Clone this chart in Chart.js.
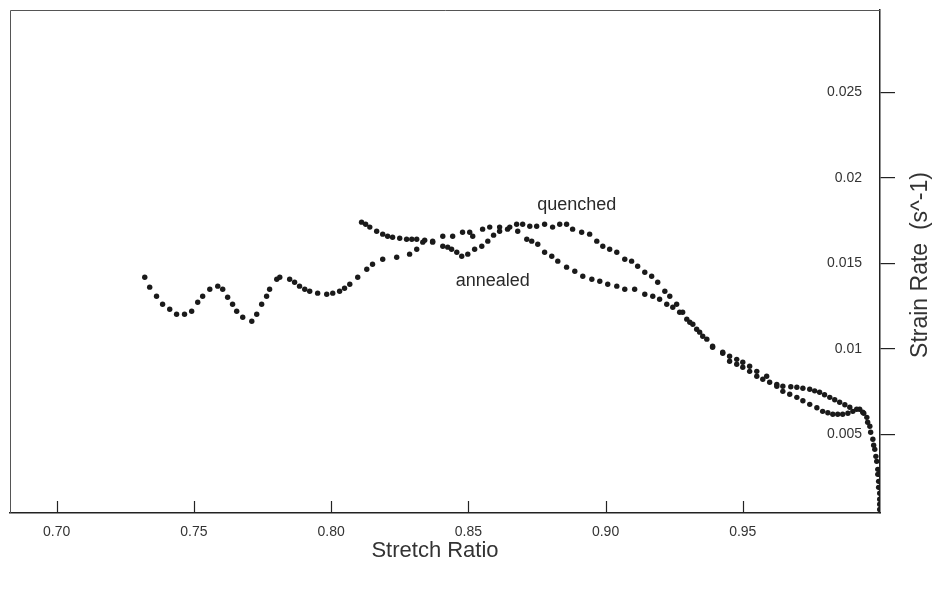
<!DOCTYPE html>
<html>
<head>
<meta charset="utf-8">
<script src="https://cdn.jsdelivr.net/npm/chart.js@4.4.0/dist/chart.umd.min.js"></script>
<style>
  body { margin: 0; background: #fff; }
  #chart { display: block; }
</style>
</head>
<body>
<canvas id="chart" width="933" height="590"></canvas>
<script>
// values
const quenchedStretch = [
  0.7321, 0.7339, 0.7364, 0.7386, 0.7412, 0.7437, 0.7466, 0.7492, 0.7514, 0.7532,
  0.7558, 0.7587, 0.7605, 0.7623, 0.7641, 0.7656, 0.7678, 0.7711, 0.7729, 0.7747,
  0.7765, 0.7776, 0.7802, 0.7813, 0.7849, 0.7867, 0.7885, 0.7904, 0.7922, 0.7951,
  0.7984, 0.8006, 0.8031, 0.8049, 0.8068,
  0.8097, 0.8130, 0.8151, 0.8188, 0.8239, 0.8286, 0.8312, 0.8334, 0.8370, 0.8407,
  0.8443, 0.8479, 0.8505, 0.8516, 0.8552, 0.8578, 0.8614, 0.8651, 0.8676, 0.8698,
  0.8724, 0.8749, 0.8778, 0.8807, 0.8833, 0.8858, 0.8880, 0.8913, 0.8942, 0.8968,
  0.8990, 0.9015, 0.9041, 0.9070, 0.9095, 0.9117, 0.9143, 0.9168, 0.9190, 0.9216,
  0.9234, 0.9259, 0.9281, 0.9307, 0.9332, 0.9354, 0.9390, 0.9427, 0.9452, 0.9478,
  0.9500, 0.9525, 0.9551, 0.9587, 0.9624, 0.9646, 0.9675, 0.9697, 0.9719, 0.9744,
  0.9762, 0.9780, 0.9798, 0.9817, 0.9835, 0.9853, 0.9872, 0.9890, 0.9915, 0.9937,
  0.9952, 0.9963, 0.9974, 0.9981, 0.9988, 0.9992, 0.9995, 0.9999, 0.9999
];
const quenchedRate = [
  0.01418, 0.01360, 0.01307, 0.01260, 0.01231, 0.01202, 0.01202, 0.01219, 0.01272, 0.01307,
  0.01348, 0.01366, 0.01348, 0.01301, 0.01260, 0.01219, 0.01184, 0.01161, 0.01202, 0.01260,
  0.01307, 0.01348, 0.01406, 0.01418, 0.01406, 0.01389, 0.01366, 0.01348, 0.01336, 0.01325,
  0.01319, 0.01325, 0.01336, 0.01354, 0.01377,
  0.01418, 0.01465, 0.01494, 0.01523, 0.01535, 0.01553, 0.01582, 0.01623, 0.01629, 0.01658,
  0.01658, 0.01681, 0.01681, 0.01658, 0.01699, 0.01711, 0.01711, 0.01711, 0.01728, 0.01728,
  0.01716, 0.01716, 0.01728, 0.01711, 0.01728, 0.01728, 0.01699, 0.01681, 0.01670, 0.01629,
  0.01599, 0.01582, 0.01564, 0.01523, 0.01512, 0.01482, 0.01447, 0.01424, 0.01389, 0.01336,
  0.01307, 0.01260, 0.01213, 0.01155, 0.01114, 0.01073, 0.01009, 0.00980, 0.00956, 0.00938,
  0.00921, 0.00898, 0.00868, 0.00839, 0.00792, 0.00781, 0.00778, 0.00775, 0.00769, 0.00763,
  0.00754, 0.00746, 0.00731, 0.00716, 0.00702, 0.00687, 0.00673, 0.00658, 0.00646, 0.00629,
  0.00599, 0.00547, 0.00471, 0.00412, 0.00342, 0.00266, 0.00190, 0.00120, 0.00061
];
const annealedStretch = [
  0.8111, 0.8126, 0.8141, 0.8166, 0.8188, 0.8206, 0.8224, 0.8250, 0.8275, 0.8294,
  0.8312, 0.8341, 0.8370, 0.8407, 0.8425, 0.8439, 0.8458, 0.8476, 0.8498, 0.8523,
  0.8549, 0.8571, 0.8592, 0.8614, 0.8643, 0.8680, 0.8713, 0.8731, 0.8753, 0.8778,
  0.8804, 0.8826, 0.8858, 0.8888, 0.8917, 0.8950, 0.8979, 0.9008, 0.9041, 0.9070,
  0.9106, 0.9143, 0.9172, 0.9197, 0.9223, 0.9245, 0.9270, 0.9296, 0.9318, 0.9343,
  0.9369, 0.9390, 0.9427, 0.9452, 0.9478, 0.9500, 0.9525, 0.9551, 0.9573, 0.9598,
  0.9624, 0.9646, 0.9671, 0.9697, 0.9719, 0.9744, 0.9770, 0.9791, 0.9810, 0.9828,
  0.9846, 0.9864, 0.9883, 0.9901, 0.9926, 0.9941, 0.9955, 0.9966, 0.9977, 0.9985,
  0.9992, 0.9995, 0.9999, 0.9999
];
const annealedRate = [
  0.01740, 0.01728, 0.01711, 0.01687, 0.01670, 0.01658, 0.01652, 0.01646, 0.01640, 0.01640,
  0.01640, 0.01634, 0.01623, 0.01599, 0.01594, 0.01582, 0.01564, 0.01541, 0.01553, 0.01582,
  0.01599, 0.01629, 0.01664, 0.01687, 0.01699, 0.01687, 0.01640, 0.01629, 0.01611, 0.01564,
  0.01541, 0.01512, 0.01477, 0.01453, 0.01424, 0.01406, 0.01395, 0.01377, 0.01366, 0.01348,
  0.01348, 0.01319, 0.01307, 0.01289, 0.01260, 0.01243, 0.01213, 0.01173, 0.01143, 0.01097,
  0.01056, 0.01015, 0.00974, 0.00927, 0.00909, 0.00892, 0.00868, 0.00839, 0.00822, 0.00804,
  0.00781, 0.00751, 0.00734, 0.00716, 0.00696, 0.00675, 0.00655, 0.00634, 0.00626, 0.00617,
  0.00617, 0.00617, 0.00623, 0.00634, 0.00646, 0.00623, 0.00570, 0.00512, 0.00436, 0.00371,
  0.00295, 0.00225, 0.00155, 0.00091
];
const xTickValues = [0.70, 0.75, 0.80, 0.85, 0.90, 0.95];
const yTickValues = [0.005, 0.01, 0.015, 0.02, 0.025];
const curveLabels = [
  { text: 'quenched', x: 0.8895, y: 0.01839 },
  { text: 'annealed', x: 0.8589, y: 0.01395 }
];

const FONT = '"Liberation Sans", Arial, sans-serif';
const INK = '#1a1a1a';

function toPoints(xs, ys) {
  return xs.map((x, i) => ({ x: x, y: ys[i] }));
}

// frame, inward x ticks, axis titles and the curve labels
const decorations = {
  id: 'decorations',
  afterDraw(chart) {
    const ctx = chart.ctx;
    const area = chart.chartArea;
    const xs = chart.scales.x;
    const ys = chart.scales.y;
    ctx.save();

    ctx.strokeStyle = '#555';
    ctx.lineWidth = 1;
    ctx.beginPath();
    ctx.moveTo(area.left + 0.5, area.bottom);
    ctx.lineTo(area.left + 0.5, area.top + 0.5);
    ctx.lineTo(area.right, area.top + 0.5);
    ctx.stroke();

    ctx.strokeStyle = '#222';
    ctx.lineWidth = 1.2;
    xTickValues.forEach(v => {
      const px = Math.round(xs.getPixelForValue(v)) + 0.5;
      ctx.beginPath();
      ctx.moveTo(px, area.bottom);
      ctx.lineTo(px, area.bottom - 12);
      ctx.stroke();
    });

    ctx.fillStyle = '#333';
    ctx.font = '22px ' + FONT;
    ctx.textAlign = 'center';
    ctx.textBaseline = 'middle';
    ctx.fillText('Stretch Ratio', 435, 551);

    ctx.save();
    ctx.translate(921, 265);
    ctx.rotate(-Math.PI / 2);
    ctx.font = '23px ' + FONT;
    ctx.fillText('Strain Rate  (s^-1)', 0, 0);
    ctx.restore();

    ctx.fillStyle = '#2a2a2a';
    ctx.font = '18px ' + FONT;
    curveLabels.forEach(l => {
      ctx.fillText(l.text, xs.getPixelForValue(l.x), ys.getPixelForValue(l.y));
    });
    ctx.restore();
  }
};

const dotStyle = {
  showLine: false,
  pointStyle: 'circle',
  pointRadius: 2.7,
  pointBorderWidth: 0,
  pointBackgroundColor: INK,
  pointHoverRadius: 2.7
};

new Chart(document.getElementById('chart'), {
  type: 'scatter',
  data: {
    datasets: [
      Object.assign({ label: 'quenched', data: toPoints(quenchedStretch, quenchedRate) }, dotStyle),
      Object.assign({ label: 'annealed', data: toPoints(annealedStretch, annealedRate) }, dotStyle)
    ]
  },
  options: {
    responsive: false,
    animation: false,
    layout: { padding: { left: 10, top: 10, right: 0, bottom: 0 } },
    plugins: {
      legend: { display: false },
      tooltip: { enabled: false }
    },
    scales: {
      x: {
        type: 'linear',
        min: 0.683,
        max: 1.0,
        afterBuildTicks: scale => { scale.ticks = xTickValues.map(v => ({ value: v })); },
        afterFit: scale => {
          scale.height = 77;
          scale.paddingLeft = 0;
          scale.paddingRight = 0;
        },
        grid: { display: true, drawOnChartArea: false, drawTicks: false },
        border: { display: true, color: '#222', width: 1.5 },
        ticks: {
          padding: 11,
          color: '#333',
          font: { family: FONT, size: 14 },
          maxRotation: 0,
          callback: v => v.toFixed(2)
        }
      },
      y: {
        type: 'linear',
        position: 'right',
        min: 0.0004,
        max: 0.0298,
        afterBuildTicks: scale => { scale.ticks = yTickValues.map(v => ({ value: v })); },
        afterFit: scale => {
          scale.width = 53;
          scale.paddingTop = 0;
          scale.paddingBottom = 0;
        },
        grid: { drawOnChartArea: false, drawTicks: true, tickLength: 15, color: '#222', lineWidth: 1.2 },
        border: { display: true, color: '#222', width: 1.5 },
        ticks: {
          mirror: true,
          padding: -18,
          color: '#333',
          font: { family: FONT, size: 14 },
          callback: v => String(Number(v.toFixed(3)))
        }
      }
    }
  },
  plugins: [decorations]
});
</script>
</body>
</html>
